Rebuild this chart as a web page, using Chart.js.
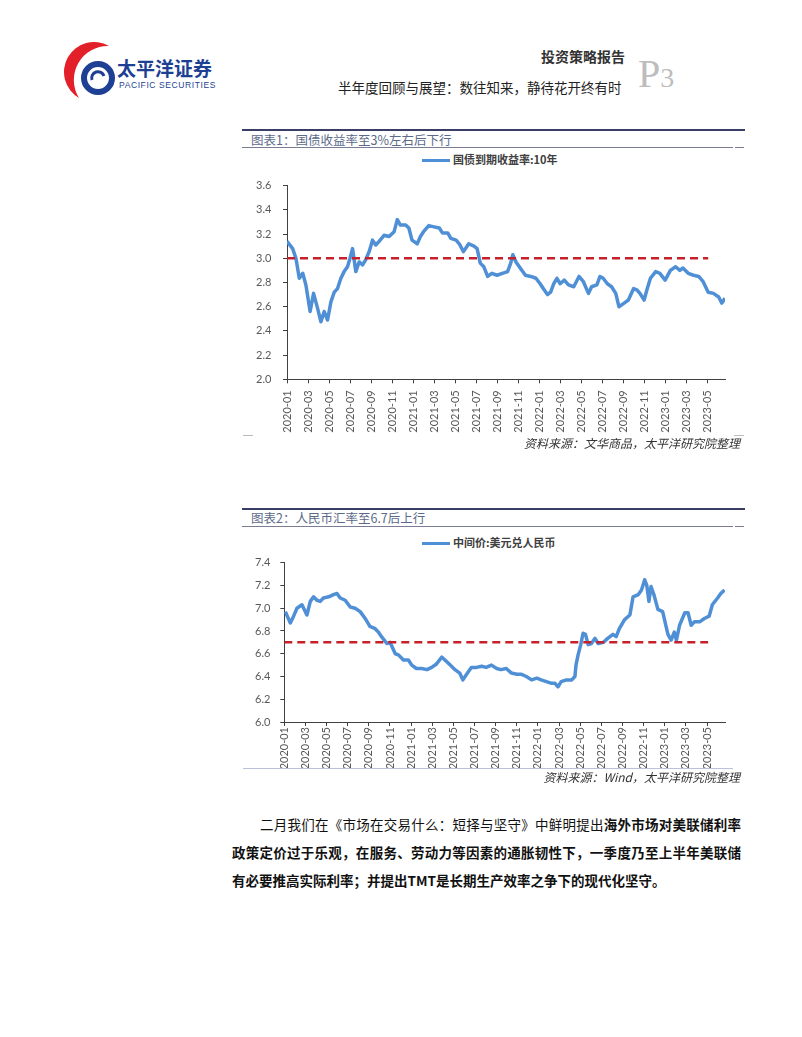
<!DOCTYPE html>
<html>
<head>
<meta charset="utf-8">
<script src="https://cdn.jsdelivr.net/npm/chart.js@4.4.0/dist/chart.umd.min.js"></script>
<style>
body { margin:0; background:#fff; }
#page { position:relative; width:802px; height:1037px; overflow:hidden; font-family:"Noto Sans CJK SC", sans-serif; color:#222; }
.abs { position:absolute; white-space:nowrap; }
.rule-top { position:absolute; height:2px; background:#3a3d66; }
.rule-bot { position:absolute; height:1px; background:#7a7c95; }
.ctitle { position:absolute; font-size:12.5px; color:#5b6a88; line-height:14px; }
.legend { position:absolute; font-size:11px; color:#404040; line-height:12px; font-weight:bold; }
.legend i { display:inline-block; width:28px; height:3px; background:#4f8fd6; vertical-align:middle; margin-right:3px; position:relative; top:-1px; }
.source { position:absolute; font-size:12px; font-style:italic; color:#333; line-height:14px; text-align:right; }
.box { position:absolute; }
.body-line { position:absolute; left:232px; width:509px; font-size:13.5px; line-height:16px; color:#111; text-align:justify; text-align-last:justify; }
</style>
</head>
<body>
<div id="page">
  <!-- header -->
  <svg class="abs" style="left:60px;top:38px" width="64" height="66">
    <path d="M49 8 A30 30 0 0 0 19 60 A34 34 0 0 1 49 8 Z" fill="#e3202a"/>
    <circle cx="38" cy="40" r="14" fill="none" stroke="#1d3f94" stroke-width="6"/>
    <path d="M32 42 A6 6 0 0 1 44 38" fill="none" stroke="#1d3f94" stroke-width="3"/>
  </svg>
  <div class="abs" style="left:117px;top:57px;font-size:19px;font-weight:bold;color:#1d3f94;line-height:22px;">太平洋证券</div>
  <div class="abs" style="left:119px;top:80px;font-size:8.5px;color:#1d3f94;letter-spacing:0.6px;font-family:'Liberation Sans',sans-serif;line-height:10px;">PACIFIC SECURITIES</div>

  <div class="abs" style="left:541px;top:48px;font-size:14px;font-weight:bold;color:#333;line-height:16px;">投资策略报告</div>
  <div class="abs" style="left:338px;top:79px;font-size:13.5px;color:#222;line-height:16px;">半年度回顾与展望：数往知来，静待花开终有时</div>
  <div class="abs" style="left:638px;top:52px;font-family:'Liberation Serif',serif;color:#bdbdbd;line-height:44px;"><span style="font-size:40px">P</span><span style="font-size:28px">3</span></div>

  <!-- chart 1 -->
  <div class="rule-top" style="left:242px;top:129px;width:503px;"></div>
  <div class="ctitle" style="left:251px;top:133px;">图表1：国债收益率至3%左右后下行</div>
  <div class="rule-bot" style="left:242px;top:147px;width:491px;"></div>
  <div class="rule-bot" style="left:735px;top:147px;width:9px;"></div>
  <div class="legend" style="left:422px;top:153px;"><i></i>国债到期收益率:10年</div>
  <div class="box" style="left:240px;top:175px;width:500px;height:262px;"><canvas id="bondChart"></canvas></div>
  <div class="rule-bot" style="left:243px;top:435px;width:10px;background:#bbb;"></div>
  <div class="rule-bot" style="left:734px;top:435px;width:10px;background:#bbb;"></div>
  <div class="source" style="right:62px;top:436px;">资料来源：文华商品，太平洋研究院整理</div>

  <!-- chart 2 -->
  <div class="rule-top" style="left:242px;top:508px;width:503px;"></div>
  <div class="ctitle" style="left:251px;top:511px;">图表2：人民币汇率至6.7后上行</div>
  <div class="rule-bot" style="left:242px;top:526px;width:491px;"></div>
  <div class="rule-bot" style="left:735px;top:526px;width:9px;"></div>
  <div class="legend" style="left:422px;top:536px;"><i></i>中间价:美元兑人民币</div>
  <div class="box" style="left:240px;top:550px;width:500px;height:222px;"><canvas id="fxChart"></canvas></div>
  <div class="rule-bot" style="left:243px;top:768px;width:490px;background:#b8c2da;"></div>
  <div class="source" style="right:62px;top:770px;">资料来源：Wind，太平洋研究院整理</div>

  <!-- body text -->
  <div class="body-line" style="left:260px;width:481px;top:816px;">二月我们在《市场在交易什么：短择与坚守》中鲜明提出<b>海外市场对美联储利率</b></div>
  <div class="body-line" style="top:844px;"><b>政策定价过于乐观，在服务、劳动力等因素的通胀韧性下，一季度乃至上半年美联储</b></div>
  <div class="body-line" style="top:872px;text-align-last:left;"><b>有必要推高实际利率；并提出TMT是长期生产效率之争下的现代化坚守。</b></div>
</div>

<script>
// x = months since 2020-01
const monthLabels = ['2020-01','2020-03','2020-05','2020-07','2020-09','2020-11',
    '2021-01','2021-03','2021-05','2021-07','2021-09','2021-11',
    '2022-01','2022-03','2022-05','2022-07','2022-09','2022-11',
    '2023-01','2023-03','2023-05']

const bondMonths = [0,0.54,0.85,1.17,1.5,1.8,2.2,2.53,2.9,3.23,3.54,3.86,4.18,4.5,4.81,5.13,5.44,5.76,6.0,6.24,
    6.55,6.87,7.2,7.5,7.82,8.14,8.45,8.77,9.24,9.72,10.2,10.5,10.8,11.3,11.6,11.9,12.4,12.7,13.0,13.5,
    14.0,14.5,14.8,15.3,15.6,16.1,16.4,16.8,17.3,17.8,18.1,18.4,18.74,19.1,19.5,20.0,20.5,21.0,21.3,21.5,
    21.8,22.2,22.7,23.2,23.7,24.1,24.4,24.8,25.1,25.4,25.7,26.0,26.4,26.8,27.3,27.8,28.2,28.7,29.0,29.5,
    29.8,30.1,30.5,30.9,31.3,31.6,32.1,32.5,33.0,33.3,33.6,34.0,34.3,34.6,35.1,35.5,36.0,36.5,37.0,37.4,
    37.7,38.2,38.7,39.2,39.6,40.1,40.6,41.1,41.4,41.7]
const bondYields = [3.14,3.08,3.0,2.835,2.876,2.78,2.56,2.71,2.59,2.476,2.56,2.49,2.64,2.72,2.75,2.835,2.89,2.93,3.0,3.08,
    2.89,2.97,2.945,2.99,3.055,3.15,3.11,3.14,3.19,3.18,3.22,3.32,3.275,3.275,3.25,3.15,3.12,3.18,3.22,3.27,
    3.26,3.25,3.21,3.21,3.165,3.15,3.12,3.055,3.12,3.1,3.08,2.96,2.93,2.85,2.876,2.86,2.876,2.89,2.96,3.03,
    2.97,2.92,2.86,2.85,2.835,2.79,2.75,2.70,2.72,2.79,2.835,2.79,2.82,2.78,2.765,2.85,2.81,2.71,2.765,2.78,
    2.85,2.835,2.79,2.765,2.71,2.6,2.63,2.655,2.75,2.74,2.71,2.655,2.75,2.835,2.89,2.876,2.82,2.90,2.93,2.90,
    2.92,2.876,2.86,2.85,2.81,2.72,2.71,2.68,2.63,2.67]

const fxMonths = [0.1,0.57,0.88,1.2,1.67,2.14,2.46,2.77,3.09,3.4,3.7,4.2,4.66,4.98,5.29,5.76,6.24,6.7,7.18,7.65,
    8.1,8.6,8.9,9.2,9.7,10.0,10.5,10.8,11.27,11.74,12.06,12.5,13.0,13.5,13.95,14.4,14.9,15.2,15.7,16.15,
    16.6,16.9,17.25,17.7,18.2,18.67,19.1,19.6,20.1,20.5,21.0,21.5,22.0,22.4,22.9,23.4,23.9,24.3,24.8,25.3,
    25.6,25.9,26.2,26.7,27.2,27.5,27.6,27.8,28.05,28.27,28.5,28.75,29.06,29.4,29.7,30.2,30.6,31.1,31.4,31.7,
    32.2,32.7,33.0,33.5,33.8,34.1,34.3,34.5,34.7,34.97,35.35,35.8,36.3,36.6,36.9,37.1,37.4,37.9,38.2,38.5,
    38.8,39.3,39.75,40.2,40.5,41.0,41.3,41.65]
const fxRates = [6.97,6.87,6.93,7.0,7.03,6.94,7.06,7.10,7.07,7.06,7.09,7.10,7.12,7.13,7.09,7.07,7.01,7.0,6.97,6.91,
    6.84,6.82,6.79,6.75,6.69,6.70,6.60,6.59,6.545,6.545,6.50,6.47,6.47,6.46,6.48,6.51,6.57,6.545,6.50,6.46,
    6.43,6.37,6.42,6.48,6.48,6.49,6.48,6.50,6.47,6.46,6.47,6.43,6.42,6.42,6.40,6.37,6.385,6.37,6.355,6.34,
    6.34,6.31,6.355,6.37,6.37,6.40,6.50,6.59,6.68,6.78,6.77,6.68,6.69,6.735,6.69,6.70,6.735,6.77,6.75,6.82,
    6.90,6.94,7.10,7.12,7.16,7.25,7.20,7.06,7.19,7.12,6.99,6.97,6.77,6.72,6.79,6.72,6.85,6.96,6.96,6.85,
    6.88,6.88,6.91,6.93,7.03,7.09,7.13,7.16]

const bondRef = 3.0
const fxRef = 6.7
const refEnd = 40.1
const xMax = 41.7

const lineColor = '#4f8fd6'
const refColor = '#c8202a'
const axisColor = '#404040'
const tickColor = '#595959'

function toPoints(xs, ys) {
    return xs.map((x, i) => ({x: x, y: ys[i]}))
}

function makeChart(id, xs, ys, yMin, yMax, ref, opts) {
    const ctx = document.getElementById(id)
    const data = {
        datasets: [{
            data: toPoints([0, refEnd], [ref, ref]),
            borderColor: refColor,
            borderWidth: 2.5,
            borderDash: [8, 5],
            pointRadius: 0,
            order: 0
        }, {
            data: toPoints(xs, ys),
            borderColor: lineColor,
            borderWidth: 3.5,
            pointRadius: 0,
            tension: 0,
            borderJoinStyle: 'round',
            order: 1
        }]
    }
    const config = {
        type: 'line',
        data: data,
        options: {
            responsive: true,
            maintainAspectRatio: false,
            animation: false,
            layout: { padding: { top: opts.padTop, right: 15, left: opts.padLeft, bottom: 0 } },
            plugins: { legend: { display: false }, tooltip: { enabled: false } },
            scales: {
                x: {
                    type: 'linear',
                    min: 0,
                    max: xMax,
                    border: { color: axisColor, width: 1 },
                    grid: { drawOnChartArea: false, drawTicks: true, tickLength: 4, color: axisColor },
                    ticks: {
                        stepSize: 2,
                        includeBounds: false,
                        autoSkip: false,
                        minRotation: 90,
                        maxRotation: 90,
                        padding: opts.xPad,
                        color: tickColor,
                        font: { family: 'Lato', size: 11 },
                        callback: (v) => monthLabels[Math.round(v / 2)]
                    },
                    afterFit: (scale) => { scale.height = opts.xHeight }
                },
                y: {
                    min: yMin,
                    max: yMax,
                    border: { color: axisColor, width: 1 },
                    grid: { drawOnChartArea: false, drawTicks: true, tickLength: 4, color: axisColor },
                    ticks: {
                        stepSize: 0.2,
                        padding: 0,
                        crossAlign: 'far',
                        color: tickColor,
                        font: { family: 'Lato', size: 11 },
                        callback: (v) => v.toFixed(1)
                    },
                    afterFit: (scale) => { scale.width = opts.yWidth }
                }
            }
        }
    }
    return new Chart(ctx, config)
}

makeChart('bondChart', bondMonths, bondYields, 2.0, 3.6, bondRef, { padTop: 10.7, padLeft: 16, xHeight: 57.7, yWidth: 31, xPad: 7 })
makeChart('fxChart', fxMonths, fxRates, 6.0, 7.4, fxRef, { padTop: 12.7, padLeft: 15, xHeight: 50, yWidth: 29.3, xPad: 1 })
</script>
</body>
</html>
